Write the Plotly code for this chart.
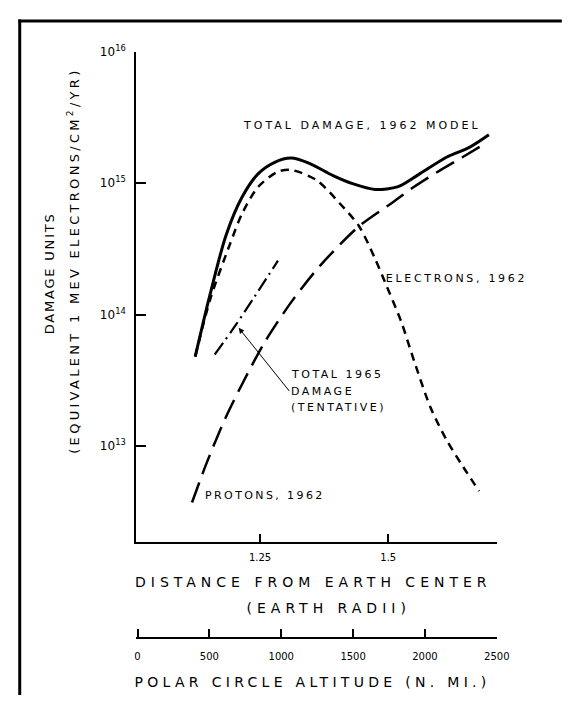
import json
import plotly.graph_objects as go

# page is 572x703; the html body keeps its default 8px margin on every side,
# so the figure is 556x687 and sits 8px in from the top-left corner.
OFF = 8
W, H = 572 - 2 * OFF, 703 - 2 * OFF

# ---------------- data ----------------
# distance from Earth centre (earth radii) / damage units
total_1962_x = [1.1234, 1.1519, 1.1834, 1.2154, 1.2464, 1.2784, 1.3104, 1.345, 1.3924,
                1.4304, 1.4744, 1.5194, 1.5574, 1.6144, 1.6584, 1.6964]
total_1962_y = [4.8e13, 1.4e14, 4.0e14, 7.9e14, 1.18e15, 1.44e15, 1.55e15, 1.42e15,
                1.14e15, 9.9e14, 8.95e14, 9.4e14, 1.15e15, 1.58e15, 1.87e15, 2.33e15]

electrons_1962_x = [1.1234, 1.1532, 1.1899, 1.2154, 1.2464, 1.2848, 1.3104, 1.3607, 1.4051,
                    1.4431, 1.4746, 1.4936, 1.5253, 1.5506, 1.5823, 1.614, 1.6455, 1.6772]
electrons_1962_y = [4.8e13, 1.33e14, 3.33e14, 5.92e14, 9.38e14, 1.22e15, 1.26e15, 1.05e15,
                    7.03e14, 4.70e14, 2.64e14, 1.77e14, 8.85e13, 4.43e13, 1.98e13,
                    1.11e13, 7.03e12, 4.56e12]

protons_1962_x = [1.1172, 1.1456, 1.1834, 1.2216, 1.2595, 1.3104, 1.3672, 1.4431, 1.5063,
                  1.5506, 1.6012, 1.6455, 1.6867]
protons_1962_y = [3.73e12, 7.44e12, 1.67e13, 3.33e13, 6.23e13, 1.24e14, 2.36e14, 4.70e14,
                  7.03e14, 9.38e14, 1.25e15, 1.58e15, 1.97e15]

total_1965_x = [1.1614, 1.2026, 1.2848]
total_1965_y = [4.98e13, 8.36e13, 2.57e14]

radii_range = [1.0079, 1.7118]
radii_ticks = [1.25, 1.5]
radii_labels = ["1.25", "1.5"]
damage_ticks = [1e13, 1e14, 1e15, 1e16]
damage_labels = ["10<sup>13</sup>", "10<sup>14</sup>", "10<sup>15</sup>", "10<sup>16</sup>"]
altitude_range = [-10.7, 2500]
altitude_ticks = [0, 500, 1000, 1500, 2000, 2500]
altitude_labels = ["0", "500", "1000", "1500", "2000", "2500"]

# ---------------- layout helpers ----------------
FONT = "DejaVu Sans"


def px(x):
    return (x - OFF) / W


def py(y):
    return 1 - (y - OFF) / H


def ylog(pix):
    # vertical pixel on the page -> log10(damage)
    return 16 - (pix - 43) / 133.3


def xrad(pix):
    # horizontal pixel on the page -> earth radii
    return 1.25 + (pix - 265) / 526.8


fig = go.Figure()

fig.add_trace(go.Scatter(x=total_1962_x, y=total_1962_y, mode="lines",
                         line=dict(color="black", width=3, shape="spline", smoothing=0.8),
                         hoverinfo="skip", showlegend=False))
fig.add_trace(go.Scatter(x=electrons_1962_x, y=electrons_1962_y, mode="lines",
                         line=dict(color="black", width=2.5, dash="8px,6px", shape="spline",
                                   smoothing=0.8),
                         hoverinfo="skip", showlegend=False))
fig.add_trace(go.Scatter(x=protons_1962_x, y=protons_1962_y, mode="lines",
                         line=dict(color="black", width=2.5, dash="21px,9px", shape="spline",
                                   smoothing=0.8),
                         hoverinfo="skip", showlegend=False))
fig.add_trace(go.Scatter(x=total_1965_x, y=total_1965_y, mode="lines",
                         line=dict(color="black", width=2.2, dash="14px,5px,2px,5px",
                                   shape="spline"),
                         hoverinfo="skip", showlegend=False))
# invisible trace that carries the altitude axis
fig.add_trace(go.Scatter(x=altitude_ticks, y=[1e13] * len(altitude_ticks), xaxis="x2",
                         mode="markers", marker=dict(opacity=0), hoverinfo="skip",
                         showlegend=False))

x_dom = [px(137.5), px(508.3)]
axis_common = dict(showgrid=False, zeroline=False, showline=True, linecolor="black",
                   linewidth=1.6, ticks="inside", tickcolor="black", tickwidth=1.6)

fig.update_layout(
    width=W, height=H,
    margin=dict(l=0, r=0, t=0, b=0),
    paper_bgcolor="white", plot_bgcolor="white",
    font=dict(family=FONT, color="black", size=11),
    xaxis=dict(domain=x_dom, range=radii_range, tickvals=radii_ticks, ticktext=radii_labels,
               ticklen=8, anchor="y", tickfont=dict(size=10, family=FONT),
               ticklabelstandoff=5,
               minor=dict(tickvals=radii_range, ticks="inside", ticklen=8, tickwidth=1.6,
                          tickcolor="black", showgrid=False),
               **axis_common),
    yaxis=dict(domain=[py(540), py(43)], type="log", range=[ylog(540), 16],
               tickvals=damage_ticks, ticktext=damage_labels, ticklen=10, anchor="x",
               tickfont=dict(size=12, family=FONT), ticklabelstandoff=6, **axis_common),
    xaxis2=dict(overlaying="x", anchor="free", position=py(637), side="bottom",
                range=altitude_range, tickvals=altitude_ticks, ticktext=altitude_labels,
                ticklen=8, tickfont=dict(size=10, family=FONT), ticklabelstandoff=9,
                **axis_common),
)

# text, letter spacing (px), font size, page x, page y, extra options
labels = [
    ("TOTAL DAMAGE, 1962 MODEL", 3, 11, 370, 118, {}),
    ("ELECTRONS, 1962", 2.7, 11, 467, 273, {}),
    ("PROTONS, 1962", 2.4, 11, 206, 493, {"xanchor": "left", "align": "left"}),
    ("TOTAL 1965", 2.5, 11, 295, 370, {"xanchor": "left", "align": "left"}),
    ("(TENTATIVE)", 2.5, 11, 295, 404, {"xanchor": "left", "align": "left"}),
    ("DISTANCE FROM EARTH CENTER", 5, 14, 320, 580, {}),
    ("(EARTH RADII)", 5, 14, 335, 607, {}),
    ("POLAR CIRCLE ALTITUDE (N. MI.)", 4.3, 14, 319, 682, {}),
    ("DAMAGE UNITS", 1.8, 13, 49, 268, {"textangle": -90}),
    ("(EQUIVALENT 1 MEV ELECTRONS/CM<sup>2</sup>/YR)", 3.3, 13, 73, 255, {"textangle": -90}),
]
spacing = {"DAMAGE": 2.5}
for txt, ls, size, x, y, extra in labels:
    spacing[txt.replace("<sup>", "").replace("</sup>", "")] = ls
    opts = dict(xanchor="center", align="center")
    opts.update(extra)
    fig.add_annotation(xref="paper", yref="paper", showarrow=False, x=px(x), y=py(y),
                       yanchor="middle", text=txt,
                       font=dict(size=size, family=FONT, color="black"), **opts)

# "DAMAGE" line of the 1965 label, carrying the arrow that points at the 1965 curve
fig.add_annotation(xref="x", yref="y", axref="x", ayref="y",
                   x=xrad(243), y=ylog(323), ax=xrad(295), ay=ylog(387),
                   text="DAMAGE", xanchor="left", yanchor="middle", align="left",
                   font=dict(size=11, family=FONT, color="black"),
                   showarrow=True, arrowhead=2, arrowsize=1.1, arrowwidth=1,
                   arrowcolor="black", standoff=0, startstandoff=0)

# frame lines of the figure
fig.add_shape(type="line", xref="paper", yref="paper", x0=px(18), x1=px(18), y0=-0.02,
              y1=py(10.5), line=dict(color="black", width=3))
fig.add_shape(type="line", xref="paper", yref="paper", x0=px(16.5), x1=1.02, y0=py(12),
              y1=py(12), line=dict(color="black", width=3))

# widen the lettering like the stencilled original
post = """
var gd = document.getElementById('{plot_id}');
var LS = %s;
gd.querySelectorAll('text.annotation-text').forEach(function(t){
  var k = t.textContent.replace(/\\u200b/g, '').trim();
  if (LS.hasOwnProperty(k)) { t.style.letterSpacing = LS[k] + 'px'; }
});
""" % json.dumps(spacing)

fig.write_html("out.html", post_script=post)
